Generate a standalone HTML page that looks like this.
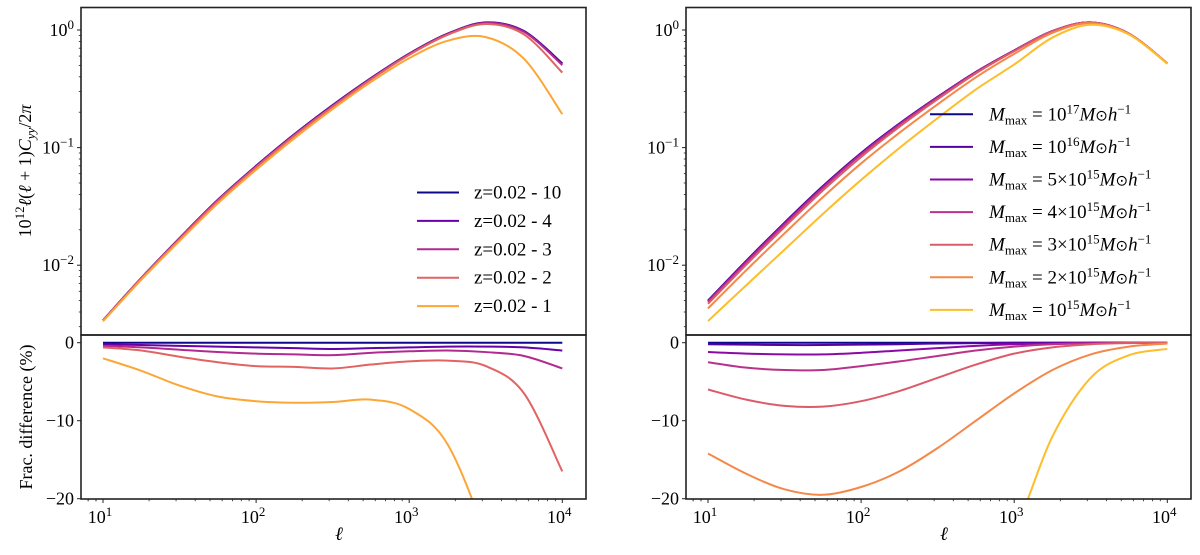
<!DOCTYPE html>
<html><head><meta charset="utf-8"><style>
body{margin:0;background:#fff;overflow:hidden;}
svg{display:block;font-family:"Liberation Serif",serif;}
</style></head><body>
<svg id="chart" width="1200" height="555" viewBox="0 0 1200 555">
<defs>
<clipPath id="cl-top"><rect x="81" y="7.5" width="505" height="327.5"/></clipPath>
<clipPath id="cl-bot"><rect x="81" y="335" width="505" height="164"/></clipPath>
<clipPath id="cr-top"><rect x="686" y="7.5" width="505" height="327.5"/></clipPath>
<clipPath id="cr-bot"><rect x="686" y="335" width="505" height="164"/></clipPath>
</defs>
</svg>
<script>
// shared grid of log10(ell)
const logEll = [1,1.25,1.5,1.75,2,2.25,2.5,2.75,3,3.25,3.5,3.75,4];
// left panel: reference curve (z=0.02-10), 10^12 l(l+1)Cyy/2pi
const leftBase = [0.0034,0.0078,0.017,0.036,0.070,0.13,0.23,0.39,0.63,0.93,1.16,0.98,0.52];
const leftLabels = ["z=0.02 - 10","z=0.02 - 4","z=0.02 - 3","z=0.02 - 2","z=0.02 - 1"];
const leftColors = ["#0d0887","#6a00a8","#b12a90","#e16462","#fca636"];
// fractional differences in %
const leftZ10 = [0,0,0,0,0,0,0,0,0,0,0,0,0];
const leftZ4  = [-0.2,-0.3,-0.4,-0.5,-0.6,-0.7,-0.8,-0.7,-0.6,-0.5,-0.5,-0.6,-1.0];
const leftZ3  = [-0.4,-0.6,-0.9,-1.2,-1.4,-1.5,-1.6,-1.3,-1.1,-1.0,-1.2,-1.7,-3.3];
const leftZ2  = [-0.6,-1.0,-1.8,-2.5,-3.0,-3.1,-3.3,-2.8,-2.4,-2.3,-3.0,-6.5,-16.5];
const leftZ1  = [-2.0,-3.6,-5.5,-6.9,-7.5,-7.7,-7.6,-7.3,-8.5,-13,-25,-42,-63];
// right panel
const rightBase = [0.0050,0.0109,0.023,0.047,0.090,0.16,0.27,0.44,0.67,0.98,1.16,0.93,0.52];
const rightLabels = ["17","16","5e15","4e15","3e15","2e15","15"];
const rightColors = ["#0d0887","#5302a3","#8b0aa5","#b83289","#db5c68","#f48849","#febd2a"];
const rightM17 = [0,0,0,0,0,0,0,0,0,0,0,0,0];
const rightM16 = [-0.2,-0.25,-0.3,-0.3,-0.25,-0.2,-0.1,-0.05,0,0,0,0,0];
const rightM5  = [-1.2,-1.4,-1.5,-1.5,-1.3,-1.0,-0.7,-0.4,-0.2,-0.1,0,0,0];
const rightM4  = [-2.5,-3.2,-3.5,-3.5,-3.0,-2.4,-1.7,-1.0,-0.5,-0.2,-0.1,0,0];
const rightM3  = [-6.0,-7.3,-8.1,-8.2,-7.5,-6.2,-4.5,-2.8,-1.4,-0.6,-0.2,-0.05,0];
const rightM2  = [-14.2,-16.8,-18.8,-19.5,-18.5,-16.5,-13.5,-10,-6.5,-3.5,-1.5,-0.5,-0.1];
const rightM1  = [-33,-38,-41,-42,-41,-38,-34,-29,-24,-12,-4.5,-1.6,-0.8];
const xTicks = [1,2,3,4];
const yTopTicks = [0,-1,-2];
const yBotTicks = [0,-10,-20];

const NS="http://www.w3.org/2000/svg";
const svg=document.getElementById('chart');
function mk(tag,attrs,parent){const e=document.createElementNS(NS,tag);for(const k in attrs)e.setAttribute(k,attrs[k]);(parent||svg).appendChild(e);return e;}

function panel(ox,name,base,fracs,colors){
  const L=ox, R=ox+505, TOP=7.5, MID=335, BOT=499;
  const xs=v=>ox+22+(v-1)*153.1;
  const yt=v=>30-(Math.log10(v))*117.6;
  const ybot=v=>342.7+(-v)*7.8;
  const g=mk('g',{});
  
  
  function smooth(pts){
    let d='M'+pts[0][0].toFixed(2)+','+pts[0][1].toFixed(2);
    for(let i=0;i<pts.length-1;i++){
      const p0=pts[i-1]||pts[i],p1=pts[i],p2=pts[i+1],p3=pts[i+2]||p2;
      const c1=[p1[0]+(p2[0]-p0[0])/6,p1[1]+(p2[1]-p0[1])/6];
      const c2=[p2[0]-(p3[0]-p1[0])/6,p2[1]-(p3[1]-p1[1])/6];
      d+='C'+c1[0].toFixed(2)+','+c1[1].toFixed(2)+' '+c2[0].toFixed(2)+','+c2[1].toFixed(2)+' '+p2[0].toFixed(2)+','+p2[1].toFixed(2);
    }
    return d;
  }
  const cid = name==='left'?'cl':'cr';
  const gt=mk('g',{'clip-path':'url(#'+cid+'-top)'},g);
  const gb=mk('g',{'clip-path':'url(#'+cid+'-bot)'},g);
  fracs.forEach((fr,si)=>{
    const tp=logEll.map((l,i)=>[xs(l),yt(base[i]*(1+fr[i]/100))]);
    const p1=mk('path',{d:smooth(tp),fill:'none',stroke:colors[si],'stroke-width':2},gt);
    
    
    const bp=logEll.map((l,i)=>[xs(l),ybot(fr[i])]);
    const p2=mk('path',{d:smooth(bp),fill:'none',stroke:colors[si],'stroke-width':2},gb);
    
    
  });
  const f1=mk('rect',{x:L,y:TOP,width:505,height:MID-TOP,fill:'none',stroke:'#222','stroke-width':1.6},g);
  
  const f2=mk('rect',{x:L,y:MID,width:505,height:BOT-MID,fill:'none',stroke:'#222','stroke-width':1.6},g);
  
  xTicks.forEach(t=>{
    const x=xs(t);
    mk('line',{x1:x,x2:x,y1:BOT,y2:BOT+4,stroke:'#222','stroke-width':1},g);
    const tx=mk('text',{x:x-3,y:523,'font-size':18,'text-anchor':'middle'},g);
    tx.innerHTML='10<tspan dy="-7" font-size="13">'+t+'</tspan>';
    
  });
  for(let d=0;d<=3;d++)for(let m=2;m<=9;m++){
    const l=d+Math.log10(m);const x=xs(l);
    if(x>L&&x<R)mk('line',{x1:x,x2:x,y1:BOT,y2:BOT+2.2,stroke:'#222','stroke-width':0.8},g);
  }
  for(let m=7;m<=9;m++){const x=xs(Math.log10(m));if(x>L)mk('line',{x1:x,x2:x,y1:BOT,y2:BOT+2.2,stroke:'#222','stroke-width':0.8},g);}
  const xl=mk('text',{x:ox+258,y:540,'font-size':19,'font-style':'italic','text-anchor':'middle'},g);
  xl.textContent='ℓ';
  yTopTicks.forEach(t=>{
    const y=yt(Math.pow(10,t));
    mk('line',{x1:L-4,x2:L,y1:y,y2:y,stroke:'#222','stroke-width':1},g);
    const tx=mk('text',{x:L-7,y:y+6,'font-size':18,'text-anchor':'end'},g);
    tx.innerHTML='10<tspan dy="-7" font-size="13">'+(t===0?'0':'−'+(-t))+'</tspan>';
    
  });
  for(let d=-3;d<=0;d++)for(let m=2;m<=9;m++){
    const y=yt(Math.pow(10,d)*m);
    if(y>TOP&&y<MID)mk('line',{x1:L-2.2,x2:L,y1:y,y2:y,stroke:'#222','stroke-width':0.8},g);
  }
  yBotTicks.forEach(t=>{
    const y=ybot(t);
    mk('line',{x1:L-4,x2:L,y1:y,y2:y,stroke:'#222','stroke-width':1},g);
    const tx=mk('text',{x:L-7,y:y+6,'font-size':18,'text-anchor':'end'},g);
    tx.textContent=t===0?'0':'−'+(-t);
    
  });
  return g;
}
panel(81,'left',leftBase,[leftZ10,leftZ4,leftZ3,leftZ2,leftZ1],leftColors);
panel(686,'right',rightBase,[rightM17,rightM16,rightM5,rightM4,rightM3,rightM2,rightM1],rightColors);

const yl1=mk('text',{transform:'translate(31,171) rotate(-90)','font-size':18,'text-anchor':'middle'});
yl1.innerHTML='10<tspan dy="-7" font-size="13">12</tspan><tspan dy="7" font-style="italic">ℓ</tspan>(<tspan font-style="italic">ℓ</tspan> + 1)<tspan font-style="italic">C</tspan><tspan dy="4" font-size="13" font-style="italic">yy</tspan><tspan dy="-4">/2</tspan><tspan font-style="italic">π</tspan>';


const yl2=mk('text',{transform:'translate(32,417) rotate(-90)','font-size':18,'text-anchor':'middle'});
yl2.textContent='Frac. difference (%)';



leftLabels.forEach((lab,i)=>{
  const y=192.5+i*28.4;
  const ln=mk('line',{x1:417,x2:459,y1:y,y2:y,stroke:leftColors[i],'stroke-width':2});
  
  
  const t=mk('text',{x:474,y:y+6,'font-size':19});
  t.textContent=lab;
  
  
});
const rightMass = ['10<tspan dy="-7" font-size="13">17</tspan>','10<tspan dy="-7" font-size="13">16</tspan>','5×10<tspan dy="-7" font-size="13">15</tspan>','4×10<tspan dy="-7" font-size="13">15</tspan>','3×10<tspan dy="-7" font-size="13">15</tspan>','2×10<tspan dy="-7" font-size="13">15</tspan>','10<tspan dy="-7" font-size="13">15</tspan>'];
rightLabels.forEach((lab,i)=>{
  const y=114.3+i*32.6;
  const ln=mk('line',{x1:930,x2:973,y1:y,y2:y,stroke:rightColors[i],'stroke-width':2});
  
  
  const t=mk('text',{x:989,y:y+6,'font-size':19});
  t.innerHTML='<tspan font-style="italic">M</tspan><tspan dy="4" font-size="13">max</tspan><tspan dy="-4"> = </tspan>'+rightMass[i]+'<tspan dy="7" font-style="italic">M</tspan><tspan font-size="15">⊙</tspan><tspan font-style="italic">h</tspan><tspan dy="-7" font-size="13">−1</tspan>';
  
  
});
</script>
</body></html>
